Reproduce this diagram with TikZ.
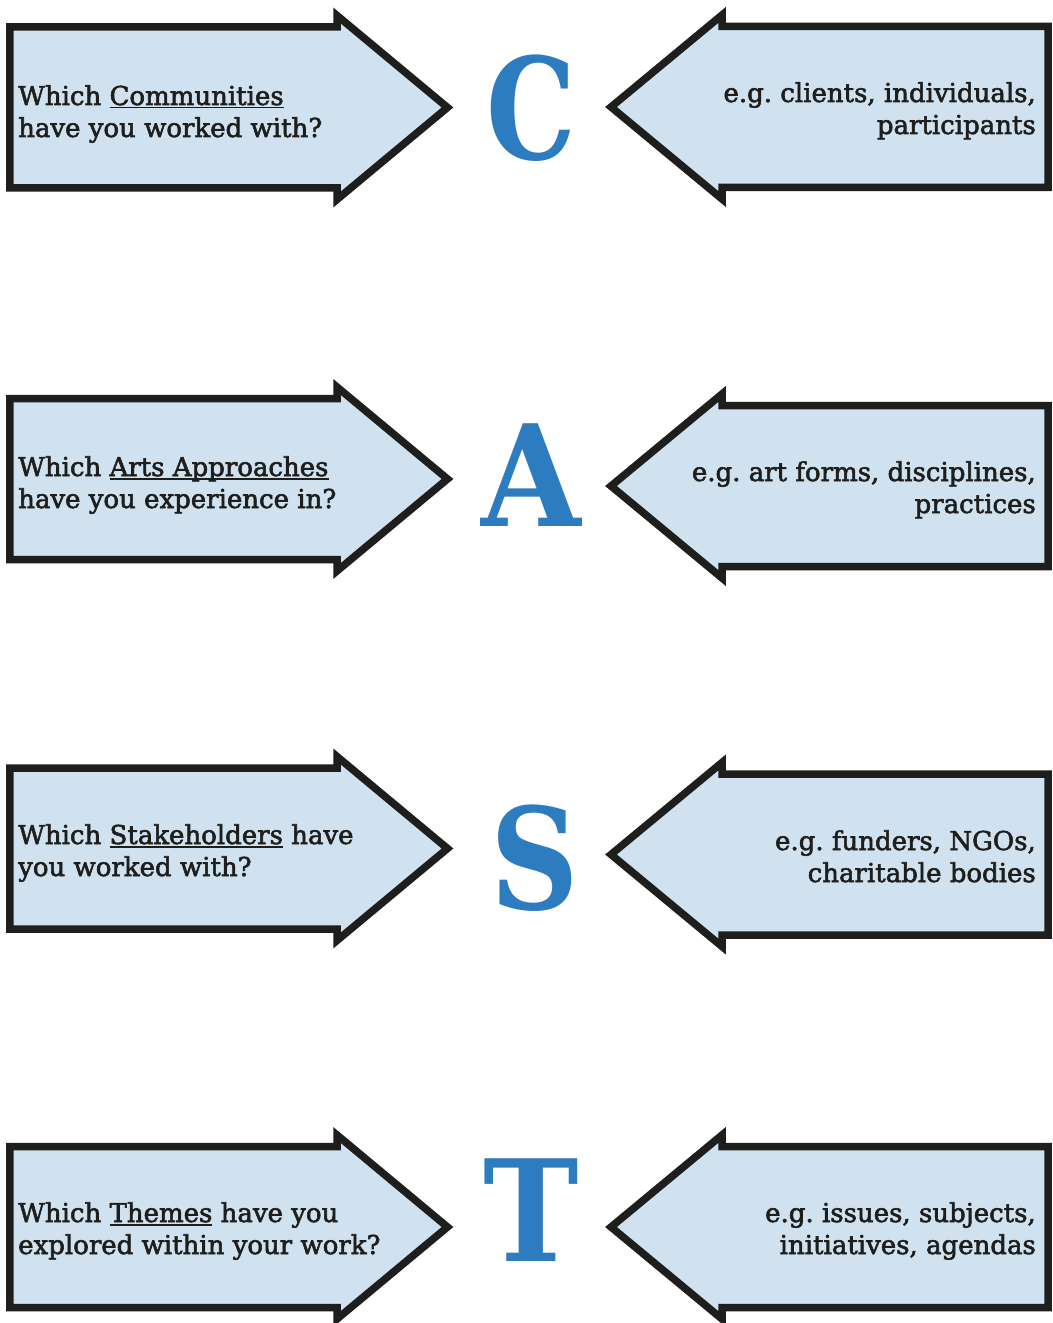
\documentclass[tikz,border=0pt]{standalone}
\usepackage{graphicx}
\usepackage{fontspec}
\setmainfont{DejaVu Serif}[FakeBold=2.2]
\newfontfamily\letterfont{DejaVu Serif}
\definecolor{arrowfill}{HTML}{D0E2F0}
\definecolor{arrowline}{HTML}{1E1E1C}
\definecolor{letterblue}{HTML}{2E7CC0}
\frenchspacing
\newcommand\myul[1]{\setbox0=\hbox{#1}\rlap{\rule[-3.5bp]{\wd0}{1.3bp}}\box0\relax}
\newcommand\qarrow[2]{% #1 name, #2 mid y : arrow pointing right
  \draw[arrowbox] (9.75,#2-80.5) -- (337,#2-80.5) -- (337,#2-92) -- (447.5,#2)
     -- (337,#2+92) -- (337,#2+80.5) -- (9.75,#2+80.5) -- cycle;}
\newcommand\earrow[2]{% arrow pointing left
  \draw[arrowbox] (1048,#2-80.5) -- (722,#2-80.5) -- (722,#2-92) -- (611,#2)
     -- (722,#2+92) -- (722,#2+80.5) -- (1048,#2+80.5) -- cycle;}
\begin{document}
\begin{tikzpicture}[x=1bp,y=-1bp,
  arrowbox/.style={draw=arrowline, fill=arrowfill, line width=7.5bp, line join=miter, miter limit=10},
  qtext/.style={inner sep=0pt, align=left, anchor=base west, text=arrowline,
     font=\fontsize{26bp}{32bp}\selectfont\frenchspacing},
  etext/.style={inner sep=0pt, align=right, anchor=base east, text=arrowline,
     font=\fontsize{26bp}{32bp}\selectfont\frenchspacing},
  bigletter/.style={inner sep=0pt, text=letterblue, font=\letterfont\fontsize{141bp}{141bp}\selectfont\bfseries}]
\useasboundingbox (0,0) rectangle (1052,1323);
% C row
\qarrow{cq}{107.5}
\earrow{ce}{107}
\node[qtext] (cq) at (18,137) {Which \myul{Communities}\\have you worked with?};
\node[etext] (ce) at (1036,134) {e.g. clients, individuals,\\participants};
\node[bigletter] (cl) at (531.5,108.5) {\scalebox{0.8}[1]{C}};
% A row
\qarrow{aq}{479}
\earrow{ae}{486}
\node[qtext] (aq) at (18,508) {Which \myul{Arts Approaches}\\have you experience in?};
\node[etext] (ae) at (1036,513) {e.g. art forms, disciplines,\\practices};
\node[bigletter] (al) at (531.5,475) {\scalebox{0.91}[1]{A}};
% S row
\qarrow{sq}{848.5}
\earrow{se}{854.5}
\node[qtext] (sq) at (18,876) {Which \myul{Stakeholders} have\\you worked with?};
\node[etext] (se) at (1036,882) {e.g. funders, NGOs,\\charitable bodies};
\node[bigletter] (sl) at (535,858) {\scalebox{0.87}[1]{S}};
% T row
\qarrow{tq}{1227}
\earrow{te}{1227}
\node[qtext] (tq) at (18,1254) {Which \myul{Themes} have you\\explored within your work?};
\node[etext] (te) at (1036,1254) {e.g. issues, subjects,\\initiatives, agendas};
\node[bigletter] (tl) at (531,1210) {\scalebox{0.91}[1]{T}};
\end{tikzpicture}
\end{document}
